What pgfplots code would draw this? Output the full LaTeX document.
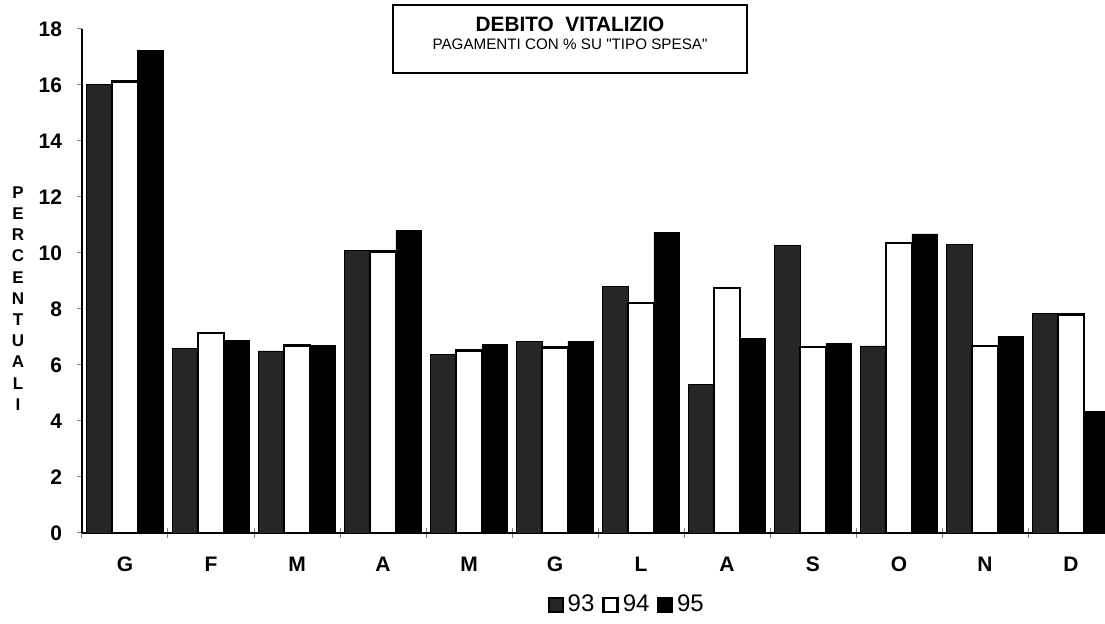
\documentclass[border=0pt]{standalone}
\usepackage{fontspec}
\setmainfont{Liberation Sans}
\usepackage{pgfplots}
\usepackage{pgfplotstable}
\pgfplotsset{compat=1.18}
\pgfplotstableread{
x  a     b     c
0  16.03 16.12 17.22
1  6.58  7.15  6.89
2  6.50  6.70  6.71
3  10.08 10.05 10.79
4  6.38  6.52  6.72
5  6.83  6.62  6.83
6  8.81  8.22  10.73
7  5.29  8.75  6.95
8  10.27 6.65  6.77
9  6.68  10.35 10.68
10 10.29 6.68  7.01
11 7.83  7.80  4.33
}\datatab
\begin{document}
\begin{tikzpicture}[x=1pt,y=1pt]
\path[use as bounding box, clip] (0,0) rectangle (552.5,312);
\begin{axis}[
  at={(41pt,45.5pt)}, anchor=south west,
  scale only axis, width=516pt, height=252pt,
  xmin=-0.5, xmax=11.5, ymin=0, ymax=18,
  axis lines*=left,
  axis line style={line width=1pt},
  ybar=0pt, bar width=0.3,
  xtick={0,...,11},
  xticklabels={G,F,M,A,M,G,L,A,S,O,N,D},
  major x tick style={draw=none},
  minor xtick={-0.5,0.5,...,10.5},
  minor x tick style={line width=0.5pt, yshift=2.5pt},
  minor tick length=5pt,
  ytick={0,2,...,18},
  major tick length=2.5pt,
  tick align=outside,
  y tick style={line width=0.5pt},
  /pgf/number format/assume math mode=true,
  ticklabel style={font=\bfseries\fontsize{10.5}{10.5}\selectfont},
  yticklabel style={xshift=-4pt},
  xticklabel style={yshift=-6pt},
  legend style={at={(0.529,-0.143)}, anchor=center, draw=none, fill=none,
    legend columns=3, font=\fontsize{12}{12}\selectfont,
    /tikz/every even column/.append style={column sep=2pt}},
]
\addplot[fill=black!85, draw=black, line width=0.4pt,
  legend image code/.code={\draw[fill=black!85,draw=black,line width=0.8pt] (0pt,-3.5pt) rectangle (7pt,3.5pt);}]
  table[x=x,y=a]{\datatab};
\addplot[fill=white, draw=black, line width=1.2pt,
  legend image code/.code={\draw[fill=white,draw=black,line width=1.2pt] (0pt,-3.5pt) rectangle (7pt,3.5pt);}]
  table[x=x,y=b]{\datatab};
\addplot[fill=black, draw=black, line width=0.4pt,
  legend image code/.code={\draw[fill=black,draw=black,line width=0.8pt] (0pt,-3.5pt) rectangle (7pt,3.5pt);}]
  table[x=x,y=c]{\datatab};
\legend{93,94,95}
\end{axis}
\node[draw, line width=0.6pt, minimum width=177pt, minimum height=34pt] at (285,292.5) {};
\node[anchor=base, inner sep=0pt, font=\bfseries\fontsize{10.4}{10.4}\selectfont] at (285,296) {DEBITO\ \ VITALIZIO};
\node[anchor=base, inner sep=0pt, font={\fontsize{7.6}{7.6}\selectfont\addfontfeature{Ligatures=TeXOff}}] at (285,287) {PAGAMENTI CON \% SU "TIPO SPESA"};
\node[align=center, inner sep=0pt, font=\bfseries\fontsize{8.5}{10.6}\selectfont] at (9,162.75) {P\\E\\R\\C\\E\\N\\T\\U\\A\\L\\I};
\end{tikzpicture}
\end{document}
